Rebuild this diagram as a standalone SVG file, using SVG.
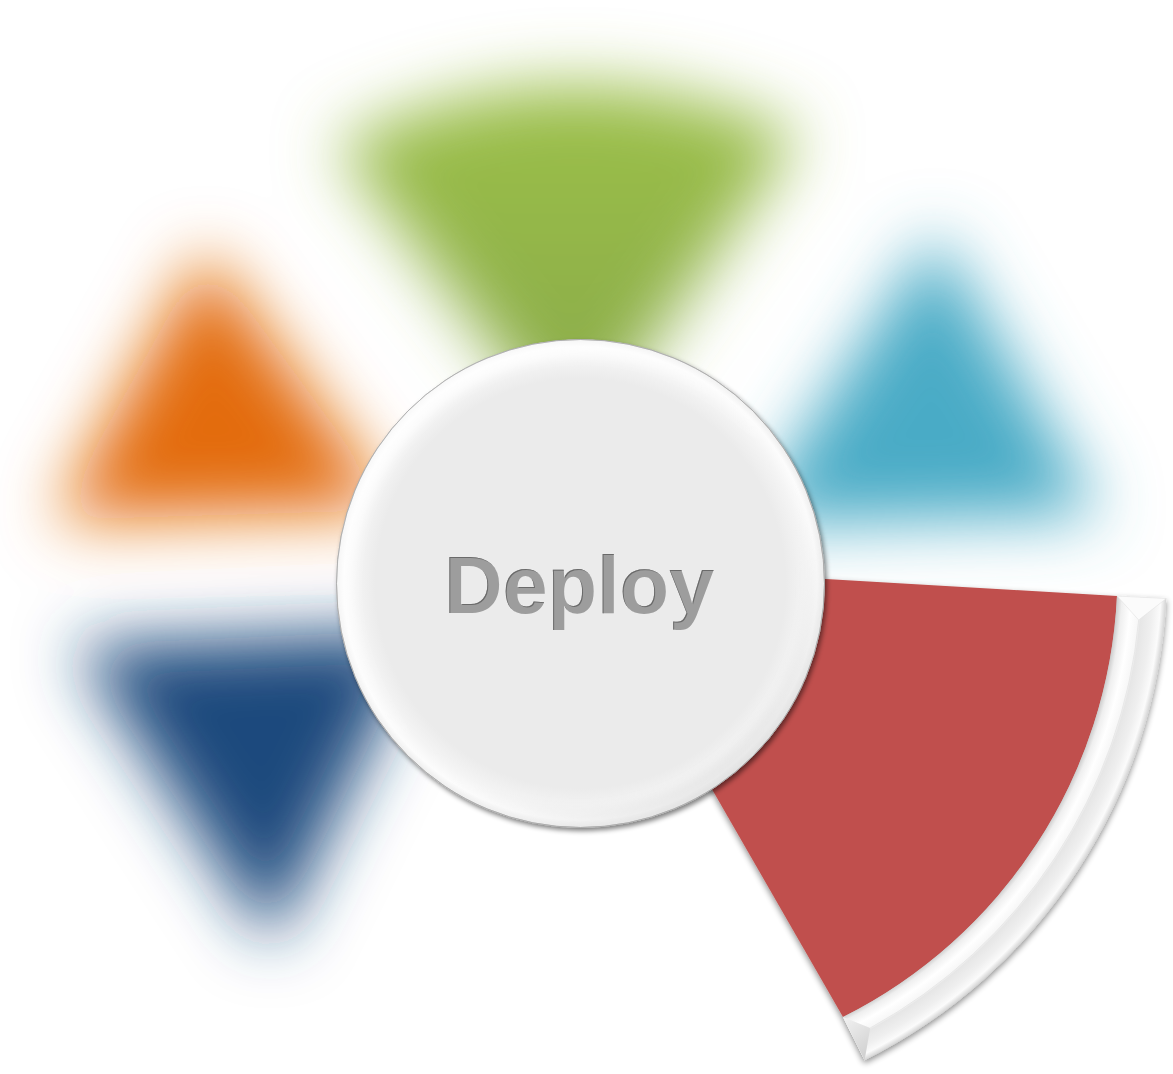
<svg xmlns="http://www.w3.org/2000/svg" width="1173" height="1074" viewBox="0 0 1173 1074">
  <defs>
    <style>
      .label { font-family: "Liberation Sans", Arial, "DejaVu Sans", sans-serif; font-weight: bold; font-size: 81px; fill: #9d9d9d; }
    </style>
    <!-- heavy blur for the inactive segments -->
    <filter id="soft" filterUnits="userSpaceOnUse" x="-200" y="-200" width="1600" height="1500">
      <feGaussianBlur stdDeviation="33"/>
    </filter>
    <filter id="haze" x="-20%" y="-20%" width="140%" height="140%">
      <feGaussianBlur stdDeviation="5"/>
    </filter>
    <!-- soft drop shadow for the raised pieces -->
    <filter id="drop" filterUnits="userSpaceOnUse" x="0" y="0" width="1173" height="1074">
      <feGaussianBlur in="SourceAlpha" stdDeviation="3"/>
      <feOffset dx="0" dy="3" result="o"/>
      <feComponentTransfer in="o" result="s"><feFuncA type="linear" slope="0.45"/></feComponentTransfer>
      <feMerge><feMergeNode in="s"/><feMergeNode in="SourceGraphic"/></feMerge>
    </filter>
    <filter id="hubShadow" filterUnits="userSpaceOnUse" x="0" y="0" width="1173" height="1074">
      <feGaussianBlur in="SourceAlpha" stdDeviation="2.5"/>
      <feOffset dx="1.5" dy="2.5" result="o"/>
      <feComponentTransfer in="o" result="s"><feFuncA type="linear" slope="0.5"/></feComponentTransfer>
      <feMerge><feMergeNode in="s"/><feMergeNode in="SourceGraphic"/></feMerge>
    </filter>
    <!-- engraved lettering: dark lip along the upper-left edges -->
    <filter id="engrave" x="-5%" y="-10%" width="110%" height="120%">
      <feOffset in="SourceAlpha" dx="1.2" dy="1.2" result="off"/>
      <feComposite in="SourceAlpha" in2="off" operator="out" result="edge"/>
      <feFlood flood-color="#6a6a6a"/>
      <feComposite in2="edge" operator="in" result="dark"/>
      <feGaussianBlur in="dark" stdDeviation="0.5" result="darkb"/>
      <feMerge><feMergeNode in="SourceGraphic"/><feMergeNode in="darkb"/></feMerge>
    </filter>

    <linearGradient id="greenFill" gradientUnits="userSpaceOnUse" x1="0" y1="60" x2="0" y2="430">
      <stop offset="0" stop-color="#9ec24a"/>
      <stop offset="1" stop-color="#88a947"/>
    </linearGradient>

    <radialGradient id="hubFace" gradientUnits="userSpaceOnUse" cx="580.5" cy="583.5" r="244">
      <stop offset="0" stop-color="#ebebeb"/>
      <stop offset="0.84" stop-color="#ebebeb"/>
      <stop offset="0.92" stop-color="#f4f4f4"/>
      <stop offset="0.97" stop-color="#fcfcfc"/>
      <stop offset="1" stop-color="#ededed"/>
    </radialGradient>
    <linearGradient id="hubLight" gradientUnits="userSpaceOnUse" x1="400" y1="380" x2="760" y2="800">
      <stop offset="0" stop-color="#ffffff" stop-opacity="0.8"/>
      <stop offset="0.55" stop-color="#ffffff" stop-opacity="0"/>
      <stop offset="1" stop-color="#b5b5b5" stop-opacity="0.4"/>
    </linearGradient>

    <radialGradient id="rimFill" gradientUnits="userSpaceOnUse" cx="620" cy="571" r="547">
      <stop offset="0.910" stop-color="#cdcdcd"/>
      <stop offset="0.919" stop-color="#efefef"/>
      <stop offset="0.935" stop-color="#ffffff"/>
      <stop offset="0.951" stop-color="#f7f7f7"/>
      <stop offset="0.955" stop-color="#e6e6e6"/>
      <stop offset="0.975" stop-color="#efefef"/>
      <stop offset="0.99" stop-color="#fbfbfb"/>
      <stop offset="1" stop-color="#d4d4d4"/>
    </radialGradient>
    <linearGradient id="capLow" gradientUnits="userSpaceOnUse" x1="843" y1="1017" x2="870" y2="1050">
      <stop offset="0" stop-color="#f2f2f2"/>
      <stop offset="1" stop-color="#d2d2d2"/>
    </linearGradient>
    <clipPath id="hubClip"><circle cx="580.5" cy="583.5" r="244"/></clipPath>
  </defs>

  <rect width="1173" height="1074" fill="#ffffff"/>

  <!-- inactive segments, out of focus -->
  <g id="segments-blurred" filter="url(#soft)">
    <path id="seg-green" d="M 335,145 Q 565,30 800,135 L 575,455 Z" fill="url(#greenFill)"/>
    <polygon id="seg-orange" points="205,250 55,520 395,510" fill="#e36c0a"/>
    <polygon id="seg-cyan" points="935,232 745,525 1100,515" fill="#4aabc6"/>
    <polygon id="seg-navy" points="75,645 425,630 272,945" fill="#1f497d"/>
  </g>

  <!-- active segment: red wedge with bevelled rim -->
  <g id="seg-deploy" filter="url(#drop)">
    <path d="M 583,565 L 1117,596 A 498 498 0 0 1 843,1017 Z" fill="#c0504d"/>
    <path d="M 1117,596 L 1166.3,598.5 A 547 547 0 0 1 864.6,1060.3 L 843,1017 A 498 498 0 0 0 1117,596 Z" fill="url(#rimFill)"/>
    <path d="M 1138.7,620 A 521 521 0 0 1 870.2,1028" fill="none" stroke="#e4e4e4" stroke-width="0.8"/>
    <polygon points="1117,596 1166.3,598.5 1138.7,620" fill="#fbfbfb" stroke="#e2e2e2" stroke-width="0.6"/>
    <polygon points="843,1017 864.6,1060.3 870.2,1028" fill="url(#capLow)"/>
  </g>

  <!-- central hub -->
  <g id="hub">
    <circle cx="580.5" cy="583.5" r="244" fill="url(#hubFace)" stroke="#a9a9a9" stroke-width="0.8" filter="url(#hubShadow)"/>
    <g clip-path="url(#hubClip)">
      <circle cx="580.5" cy="583.5" r="236" fill="none" stroke="url(#hubLight)" stroke-width="22" filter="url(#haze)"/>
    </g>
    <circle cx="580.5" cy="583.5" r="244" fill="none" stroke="#a9a9a9" stroke-width="0.8"/>
    <text class="label" x="579" y="613" text-anchor="middle" filter="url(#engrave)">Deploy</text>
  </g>
</svg>
